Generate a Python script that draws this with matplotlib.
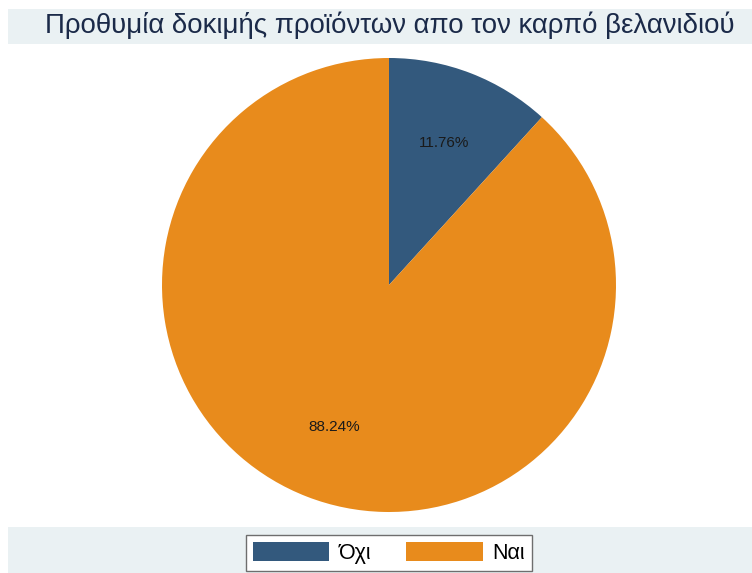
import matplotlib
matplotlib.use("Agg")
import matplotlib.pyplot as plt
from matplotlib.patches import Rectangle, Patch

# Data
categories = ["Όχι", "Ναι"]
shares = [11.76, 88.24]
colors = ["#33597d", "#e88b1c"]
title = "Προθυμία δοκιμής προϊόντων απο τον καρπό βελανιδιού"

W, H = 752, 573
plt.rcParams["font.family"] = ["Liberation Sans", "DejaVu Sans"]

fig = plt.figure(figsize=(W / 100, H / 100), dpi=100)
fig.patch.set_facecolor("white")

band = "#eaf1f3"
# title band and legend band
fig.add_artist(Rectangle((8 / W, 1 - 44 / H), 1 - 8 / W, 35 / H,
                         transform=fig.transFigure, facecolor=band,
                         edgecolor="none", zorder=0))
fig.add_artist(Rectangle((8 / W, 0), 1 - 8 / W, 46 / H,
                         transform=fig.transFigure, facecolor=band,
                         edgecolor="none", zorder=0))

fig.text(390 / W, 1 - 33 / H, title, ha="center", va="baseline",
         fontsize=19.9, color="#1b2a49")

# pie axes: centre (389, 285), radius 227 px
cx, cy, r = 389, 285, 227
ax = fig.add_axes([(cx - r) / W, 1 - (cy + r) / H, 2 * r / W, 2 * r / H])

wedges, texts, autotexts = ax.pie(
    shares, colors=colors, startangle=90, counterclock=False,
    radius=1, autopct="%.2f%%", pctdistance=0.67,
    wedgeprops=dict(linewidth=0),
    textprops=dict(fontsize=11, color="#1a1a1a"),
)
ax.set_xlim(-1, 1)
ax.set_ylim(-1, 1)
ax.set_aspect("equal")
ax.axis("off")

handles = [Patch(facecolor=c, edgecolor="none", label=l)
           for c, l in zip(colors, categories)]
leg = fig.legend(handles=handles, loc="center",
                 bbox_to_anchor=(389 / W, 1 - 553 / H),
                 ncol=2, fontsize=15.5, frameon=True, fancybox=False,
                 handlelength=3.55, handleheight=0.95, handletextpad=0.45,
                 columnspacing=1.6, borderpad=0.32)
leg.get_frame().set_edgecolor("#6e6e6e")
leg.get_frame().set_linewidth(1.0)
leg.get_frame().set_facecolor("white")
leg.get_frame().set_alpha(1)

fig.savefig("out.png", dpi=100)
